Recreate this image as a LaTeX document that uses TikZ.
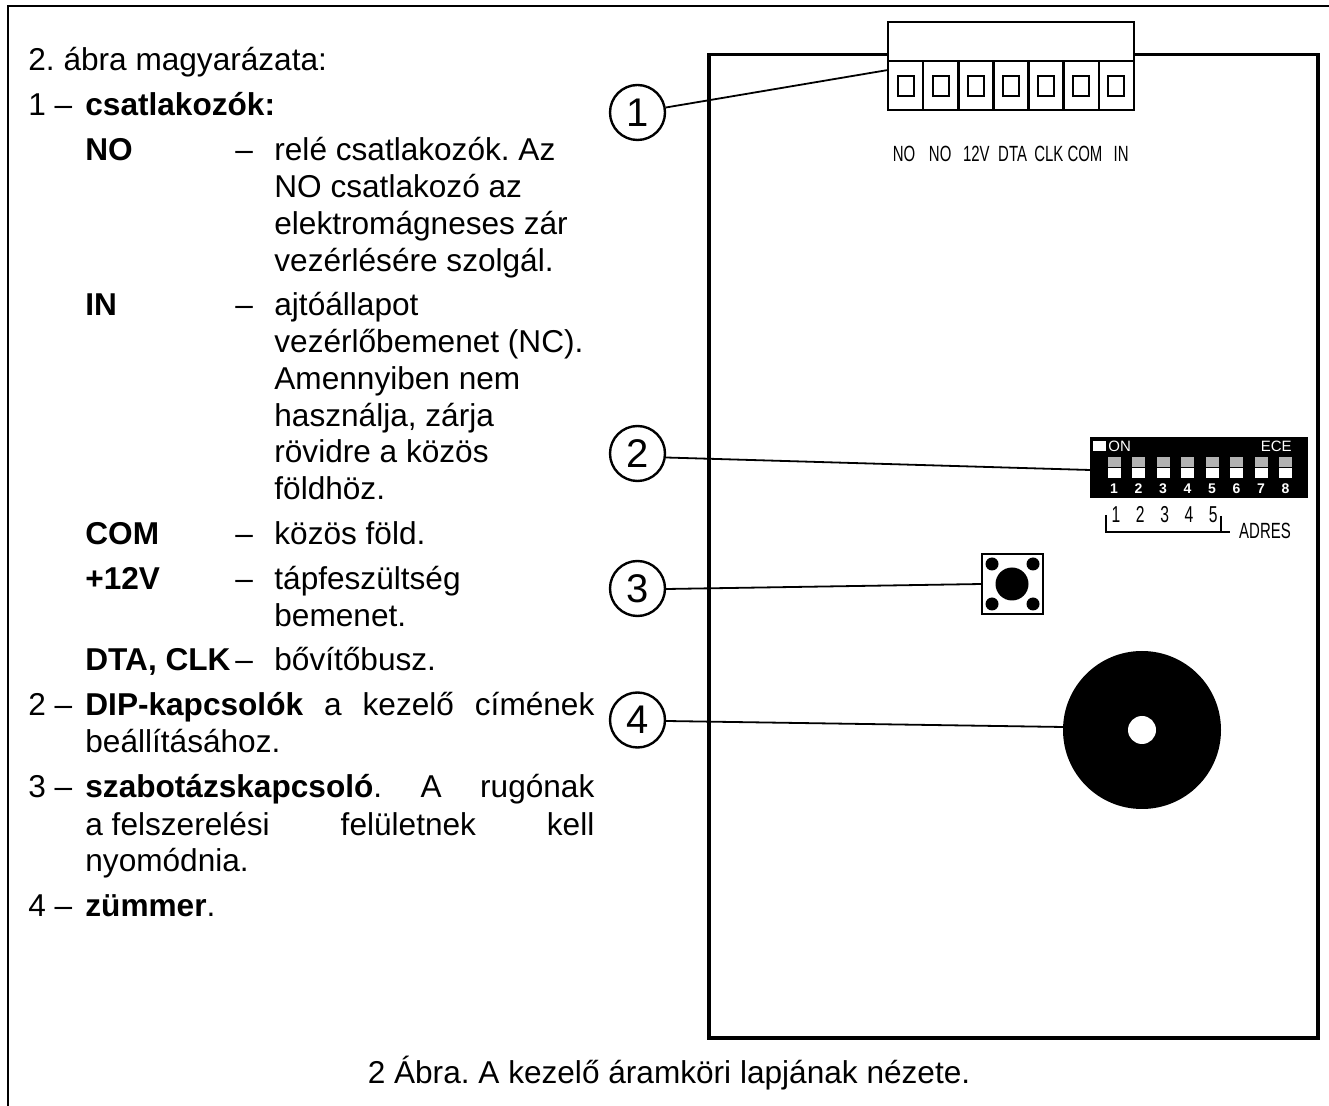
\documentclass[tikz,border=0pt]{standalone}
\usepackage{fontspec}
\setmainfont{Liberation Sans}
\newfontfamily\narrowfont[FakeStretch=0.68]{Liberation Sans}
\usetikzlibrary{positioning}
\frenchspacing
\tikzset{
  txt/.style={anchor=base west,inner sep=0pt,font=\fontsize{15.8}{19}\selectfont},
  pinlabel/.style={anchor=base,inner sep=0pt,font=\fontsize{11}{13}\narrowfont},
  dipnum/.style={anchor=base,inner sep=0pt,text=white,font=\fontsize{7}{9}\bfseries},
  diptext/.style={inner sep=0pt,text=white,font=\fontsize{7.5}{9}\selectfont},
  numcircle/.style={draw,line width=1.2pt,circle,minimum size=27.5pt,inner sep=0pt,font=\fontsize{20}{24}\selectfont},
  leader/.style={line width=0.9pt},
}
\begin{document}
\begin{tikzpicture}[x=0.5pt,y=-0.5pt]
  \useasboundingbox (0,0) rectangle (1329,1106);
  % Frame
  \draw[line width=1pt] (8,1106) -- (8,6) -- (1329,6);
  % Text
  \node[txt] (title) at (28,71) {2. ábra magyarázata:};
  \node[txt] (one) at (28,116) {1 –};
  \node[txt] (onea) at (85,116) {\textbf{csatlakozók:}};
  \node[txt] (no) at (85,161) {\textbf{NO}};
  \node[txt] (nodash) at (235,161) {–};
  \node[txt] (noa) at (274,161) {relé csatlakozók. Az};
  \node[txt] (nob) at (274,198) {NO csatlakozó az};
  \node[txt] (noc) at (274,235) {elektromágneses zár};
  \node[txt] (nod) at (274,272) {vezérlésére szolgál.};
  \node[txt] (in) at (85,316) {\textbf{IN}};
  \node[txt] (indash) at (235,316) {–};
  \node[txt] (ina) at (274,316) {ajtóállapot};
  \node[txt] (inb) at (274,353) {vezérlőbemenet (NC).};
  \node[txt] (inc) at (274,390) {Amennyiben nem};
  \node[txt] (ind) at (274,427) {használja, zárja};
  \node[txt] (ine) at (274,463) {rövidre a közös};
  \node[txt] (inf) at (274,500) {földhöz.};
  \node[txt] (com) at (85,545) {\textbf{COM}};
  \node[txt] (comdash) at (235,545) {–};
  \node[txt] (coma) at (274,545) {közös föld.};
  \node[txt] (plus) at (85,590) {\textbf{+12V}};
  \node[txt] (plusdash) at (235,590) {–};
  \node[txt] (plusa) at (274,590) {tápfeszültség};
  \node[txt] (plusb) at (274,627) {bemenet.};
  \node[txt] (dta) at (85,671) {\textbf{DTA, CLK}};
  \node[txt] (dtadash) at (235,671) {–};
  \node[txt] (dtaa) at (274,671) {bővítőbusz.};
  \node[txt] (two) at (28,716) {2 –};
  \node[txt] (twoa) at (85,716) {\makebox[254.5pt][s]{\textbf{DIP-kapcsolók}\hfil a\hfil kezelő\hfil címének}};
  \node[txt] (twob) at (85,753) {beállításához.};
  \node[txt] (three) at (28,798) {3 –};
  \node[txt] (threea) at (85,798) {\makebox[254.5pt][s]{\textbf{szabotázskapcsoló}.\hfil A\hfil rugónak}};
  \node[txt] (threeb) at (85,835) {\makebox[254.5pt][s]{a felszerelési\hfil felületnek\hfil kell}};
  \node[txt] (threec) at (85,871) {nyomódnia.};
  \node[txt] (four) at (28,916) {4 –};
  \node[txt] (foura) at (85,916) {\textbf{zümmer}.};
  \node[txt,anchor=base] (caption) at (669,1083) {2 Ábra. A kezelő áramköri lapjának nézete.};
  % Panel
  \draw[line width=1.8pt] (888,54.5) -- (709,54.5) -- (709,1038) -- (1318,1038) -- (1318,54.5) -- (1134,54.5);
  % Connector block
  \draw[line width=1.3pt] (888,22) rectangle (1134,110);
  \draw[line width=1.3pt] (888,61) -- (1134,61);
  \foreach \i in {1,...,6}
    \draw[line width=1.3pt] (888+35.15*\i,61) -- (888+35.15*\i,110);
  \foreach \i in {0,...,6}
    \draw[line width=1.3pt] (906+35*\i-8,76) rectangle (906+35*\i+8,96);
  \foreach \t [count=\i from 0] in {NO,NO,12V,DTA,CLK,COM,IN}
    \node[pinlabel] (pin\i) at (904+36.2*\i,162) {\t};
  % Dip switch
  \fill (1090,437) rectangle (1308,498);
  \fill[white] (1093,441) rectangle (1106,451);
  \node[diptext,anchor=base west] (on) at (1108,452) {ON};
  \node[diptext,anchor=base east] (ece) at (1292,452) {ECE};
  \foreach \i in {0,...,7} {
    \fill[black!30] (1114+24.5*\i-6.5,457) rectangle (1114+24.5*\i+6.5,467);
    \fill[white] (1114+24.5*\i-6.5,468) rectangle (1114+24.5*\i+6.5,478);
    \pgfmathtruncatemacro{\n}{\i+1}
    \node[dipnum] (dip\n) at (1114+24.5*\i,494) {\n};
  }
  % Address bracket
  \draw[line width=0.8pt] (1106,515) -- (1106,532) -- (1230,532);
  \draw[line width=0.8pt] (1221,516) -- (1221,532);
  \foreach \t [count=\i from 0] in {1,2,3,4,5}
    \node[pinlabel,font=\fontsize{11.5}{13}\narrowfont] (addr\t) at (1116+24.3*\i,523) {\t};
  \node[pinlabel] (adres) at (1265,539) {ADRES};
  % Tamper switch
  \draw[line width=1.2pt] (982,554) rectangle (1043,614);
  \fill (1012,584) circle (16.5);
  \foreach \a/\b in {992/564,1033/564,992/604,1033/604}
    \fill (\a,\b) circle (6.5);
  % Buzzer
  \fill (1142,730) circle (79);
  \fill[white] (1142,730) circle (14);
  % Callouts
  \coordinate (c1) at (888,70);
  \coordinate (c2) at (1090,470);
  \coordinate (c3) at (982,584);
  \coordinate (c4) at (1064,727);
  \node[numcircle] (n1) at (637.5,112.5) {1};
  \node[numcircle] (n2) at (637.5,453.5) {2};
  \node[numcircle] (n3) at (637.5,588.5) {3};
  \node[numcircle] (n4) at (637.5,720) {4};
  \draw[leader] (n1.10) -- (c1);
  \draw[leader] (n2.-8) -- (c2);
  \draw[leader] (n3.-1) -- (c3);
  \draw[leader] (n4.-2) -- (c4);
\end{tikzpicture}
\end{document}
